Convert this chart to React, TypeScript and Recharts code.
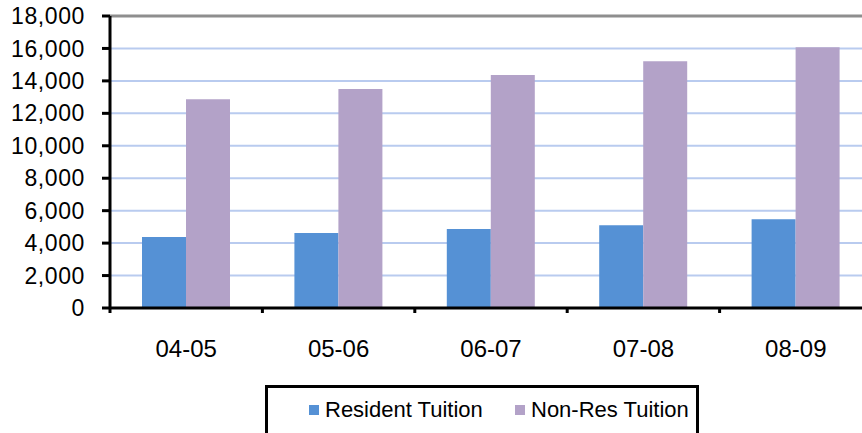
import { BarChart, Bar, XAxis, YAxis, CartesianGrid, ReferenceLine } from 'recharts';

const YEARS = ['04-05', '05-06', '06-07', '07-08', '08-09'];
const RESIDENT = [4380, 4620, 4870, 5100, 5470];
const NON_RES = [12870, 13500, 14370, 15210, 16070];
const Y_TICKS = [0, 2000, 4000, 6000, 8000, 10000, 12000, 14000, 16000, 18000];

const COLORS = {
    resident: '#5591d5',
    nonRes: '#b3a2c8',
    grid: '#b9cbef',
    top: '#8e8e8e',
};

const FONT = '"Liberation Sans", Arial, sans-serif';

const data = YEARS.map((year, i) => ({
    year,
    resident: RESIDENT[i],
    nonRes: NON_RES[i],
}));

const fmt = (v: number) => v.toLocaleString('en-US');

// category label centred, with the tick mark sitting on the left boundary of the band
function YearTick({ x, y, payload }: { x?: number; y?: number; payload?: { value: string; offset?: number } }) {
    const cx = x ?? 0;
    const cy = y ?? 0;
    const half = payload?.offset ?? 0;
    return (
        <g>
            <line x1={cx - half} x2={cx - half} y1={cy} y2={cy + 5} stroke="#000" strokeWidth={3} />
            <text x={cx} y={cy + 49} textAnchor="middle" fill="#000" fontSize={24} fontFamily={FONT}>
                {payload?.value}
            </text>
        </g>
    );
}

function LegendBox() {
    const item = (color: string, label: string, left: number) => (
        <div style={{ position: 'absolute', left, top: 10, display: 'flex', alignItems: 'center' }}>
            <div style={{ width: 10, height: 10, background: color, marginRight: 6 }} />
            <span style={{ fontSize: 22, fontFamily: FONT, color: '#000', lineHeight: '24px' }}>{label}</span>
        </div>
    );
    return (
        <div
            style={{
                position: 'absolute',
                left: 265,
                top: 385,
                width: 434,
                height: 60,
                border: '3px solid #000',
                boxSizing: 'border-box',
                background: '#fff',
            }}
        >
            {item(COLORS.resident, 'Resident Tuition', 41)}
            {item(COLORS.nonRes, 'Non-Res Tuition', 247)}
        </div>
    );
}

export default function App() {
    return (
        <div style={{ position: 'absolute', left: 0, top: 0, width: 862, height: 433, overflow: 'hidden', background: '#fff' }}>
            <BarChart
                width={880}
                height={433}
                data={data}
                margin={{ top: 16, right: 8, bottom: 0, left: 0 }}
                barCategoryGap="21%"
                barGap={0}
            >
                <CartesianGrid vertical={false} stroke={COLORS.grid} strokeWidth={2} />
                <XAxis
                    dataKey="year"
                    height={125}
                    tickSize={0}
                    tickMargin={0}
                    axisLine={{ stroke: '#000', strokeWidth: 3 }}
                    tick={<YearTick />}
                    interval={0}
                />
                <YAxis
                    width={110}
                    domain={[0, 18000]}
                    ticks={Y_TICKS}
                    tickFormatter={fmt}
                    tickSize={8}
                    tickMargin={17}
                    tick={{ fill: '#000', fontSize: 23, fontFamily: FONT, letterSpacing: 0.6 }}
                    tickLine={{ stroke: '#000', strokeWidth: 3 }}
                    axisLine={{ stroke: '#000', strokeWidth: 3 }}
                    interval={0}
                />
                <ReferenceLine y={18000} stroke={COLORS.top} strokeWidth={3} />
                <Bar dataKey="resident" name="Resident Tuition" fill={COLORS.resident} isAnimationActive={false} />
                <Bar dataKey="nonRes" name="Non-Res Tuition" fill={COLORS.nonRes} isAnimationActive={false} />
            </BarChart>
            <LegendBox />
        </div>
    );
}
